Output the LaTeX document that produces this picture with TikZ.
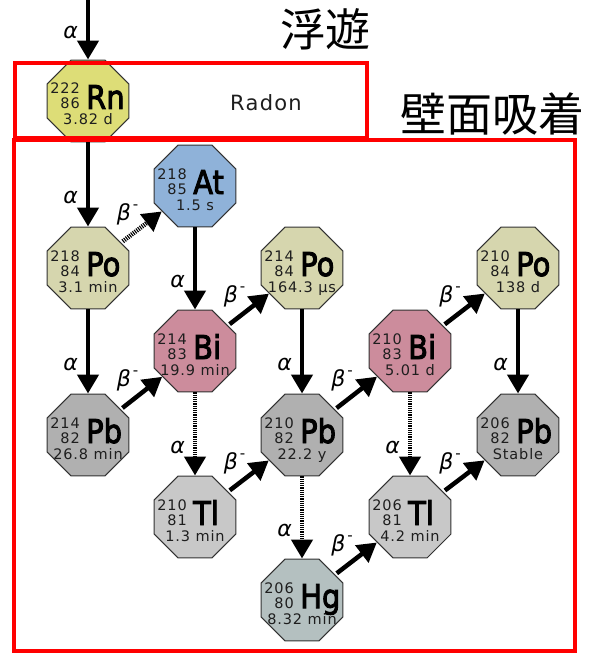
\documentclass[tikz,border=0pt]{standalone}
\usepackage{fontspec}
\usepackage{graphicx}
\setmainfont{DejaVu Sans}
\newfontfamily\cjk{Noto Sans CJK JP}
\newfontfamily\symfnt[FakeBold=3]{DejaVu Sans}
\newfontfamily\numfnt[LetterSpace=6]{DejaVu Sans}
\usetikzlibrary{shapes.geometric,arrows.meta}

\definecolor{rncol}{RGB}{221,221,119}
\definecolor{atcol}{RGB}{143,178,217}
\definecolor{pocol}{RGB}{214,214,174}
\definecolor{bicol}{RGB}{204,140,156}
\definecolor{pbcol}{RGB}{176,176,176}
\definecolor{tlcol}{RGB}{200,200,200}
\definecolor{hgcol}{RGB}{180,192,192}
\definecolor{octline}{RGB}{50,50,50}
\definecolor{numcol}{RGB}{30,30,30}

\tikzset{
  oct/.style={regular polygon, regular polygon sides=8, minimum size=88.7pt,
    inner sep=0pt, draw=octline, line width=1pt},
  numtxt/.style={inner sep=0pt, font=\numfnt\fontsize{14.5}{14.5}\selectfont, text=numcol},
  symtxt/.style={inner sep=0pt, font=\symfnt\fontsize{29}{29}\selectfont},
  decay/.style={line width=4.5pt, -{Triangle[width=21pt,length=19pt]}},
  dotdecay/.style={decay, dash pattern=on 1.1pt off 1.1pt},
  alab/.style={inner sep=0pt, font=\itshape\fontsize{22}{22}\selectfont},
  blab/.style={alab, xshift=-14pt, yshift=13pt},
  redbox/.style={draw=red, line width=4pt},
  cjktxt/.style={inner sep=0pt, font=\cjk\fontsize{45}{45}\selectfont},
}

\newcommand\bminus{β\kern2pt\raisebox{0.5em}{\upshape\fontsize{15}{15}\selectfont -}}

\newcommand\nucl[8]{%
  \node[oct, fill=#4] (#1) at (#2,#3) {};
  \node[numtxt, anchor=base east] (#1a) at ([xshift=-8pt,yshift=7pt]#1.center) {#5};
  \node[numtxt, anchor=base east] (#1z) at ([xshift=-8pt,yshift=-8pt]#1.center) {#6};
  \node[symtxt, anchor=base west] (#1s) at ([xshift=-2pt,yshift=-8pt]#1.center) {\scalebox{1}[1.13]{#7}};
  \node[numtxt, anchor=base] (#1h) at ([yshift=-24pt]#1.center) {#8};
}

\begin{document}
\begin{tikzpicture}[x=1pt,y=-1pt]
\useasboundingbox (0,0) rectangle (595,655);

\nucl{rn}{88}{101}{rncol}{222}{86}{Rn}{3.82 d}
\nucl{at}{195}{186}{atcol}{218}{85}{At}{1.5 s}
\nucl{poa}{88}{268}{pocol}{218}{84}{Po}{3.1 min}
\nucl{pob}{302}{268}{pocol}{214}{84}{Po}{164.3 μs}
\nucl{poc}{518}{268}{pocol}{210}{84}{Po}{138 d}
\nucl{bia}{195}{351}{bicol}{214}{83}{Bi}{19.9 min}
\nucl{bib}{410}{351}{bicol}{210}{83}{Bi}{5.01 d}
\nucl{pba}{88}{435}{pbcol}{214}{82}{Pb}{26.8 min}
\nucl{pbb}{302}{435}{pbcol}{210}{82}{Pb}{22.2 y}
\nucl{pbc}{518}{435}{pbcol}{206}{82}{Pb}{Stable}
\nucl{tla}{195}{517}{tlcol}{210}{81}{Tl}{1.3 min}
\nucl{tlb}{410}{517}{tlcol}{206}{81}{Tl}{4.2 min}
\nucl{hg}{302}{600}{hgcol}{206}{80}{Hg}{8.32 min}

\node[inner sep=0pt, font=\numfnt\fontsize{21}{21}\selectfont, text=numcol] (radon) at (266,103) {Radon};

\coordinate (src) at (88,0);
\draw[decay] (src) -- node[alab, pos=0.54, xshift=-17.5pt] (l0) {α} (rn);
\draw[decay] (rn) -- node[alab, pos=0.66, xshift=-17.5pt] (l1) {α} (poa);
\draw[dotdecay, shorten <=2pt] (poa) -- node[blab, pos=0.5] (l2) {\bminus} (at);
\draw[decay] (at) -- node[alab, pos=0.66, xshift=-17.5pt] (l3) {α} (bia);
\draw[decay] (poa) -- node[alab, pos=0.66, xshift=-17.5pt] (l4) {α} (pba);
\draw[decay, shorten <=2pt] (pba) -- node[blab, pos=0.5] (l5) {\bminus} (bia);
\draw[decay, shorten <=2pt] (bia) -- node[blab, pos=0.5] (l6) {\bminus} (pob);
\draw[dotdecay] (bia) -- node[alab, pos=0.66, xshift=-17.5pt] (l7) {α} (tla);
\draw[decay] (pob) -- node[alab, pos=0.66, xshift=-17.5pt] (l8) {α} (pbb);
\draw[decay, shorten <=2pt] (tla) -- node[blab, pos=0.5] (l9) {\bminus} (pbb);
\draw[decay, shorten <=2pt] (pbb) -- node[blab, pos=0.5] (l10) {\bminus} (bib);
\draw[dotdecay] (pbb) -- node[alab, pos=0.66, xshift=-17.5pt] (l11) {α} (hg);
\draw[decay, shorten <=2pt] (bib) -- node[blab, pos=0.5] (l12) {\bminus} (poc);
\draw[dotdecay] (bib) -- node[alab, pos=0.66, xshift=-17.5pt] (l13) {α} (tlb);
\draw[decay] (poc) -- node[alab, pos=0.66, xshift=-17.5pt] (l14) {α} (pbc);
\draw[decay, shorten <=2pt] (hg) -- node[blab, pos=0.5] (l15) {\bminus} (tlb);
\draw[decay, shorten <=2pt] (tlb) -- node[blab, pos=0.5] (l16) {\bminus} (pbc);

\draw[redbox] (15,63.5) rectangle (367,138.5);
\draw[redbox] (14,140.5) rectangle (574.5,651);

\node[cjktxt] (fuyu) at (325,29) {浮遊};
\node[cjktxt, font=\cjk\fontsize{46}{46}\selectfont] (hekimen) at (492,114) {壁面吸着};
\end{tikzpicture}
\end{document}
